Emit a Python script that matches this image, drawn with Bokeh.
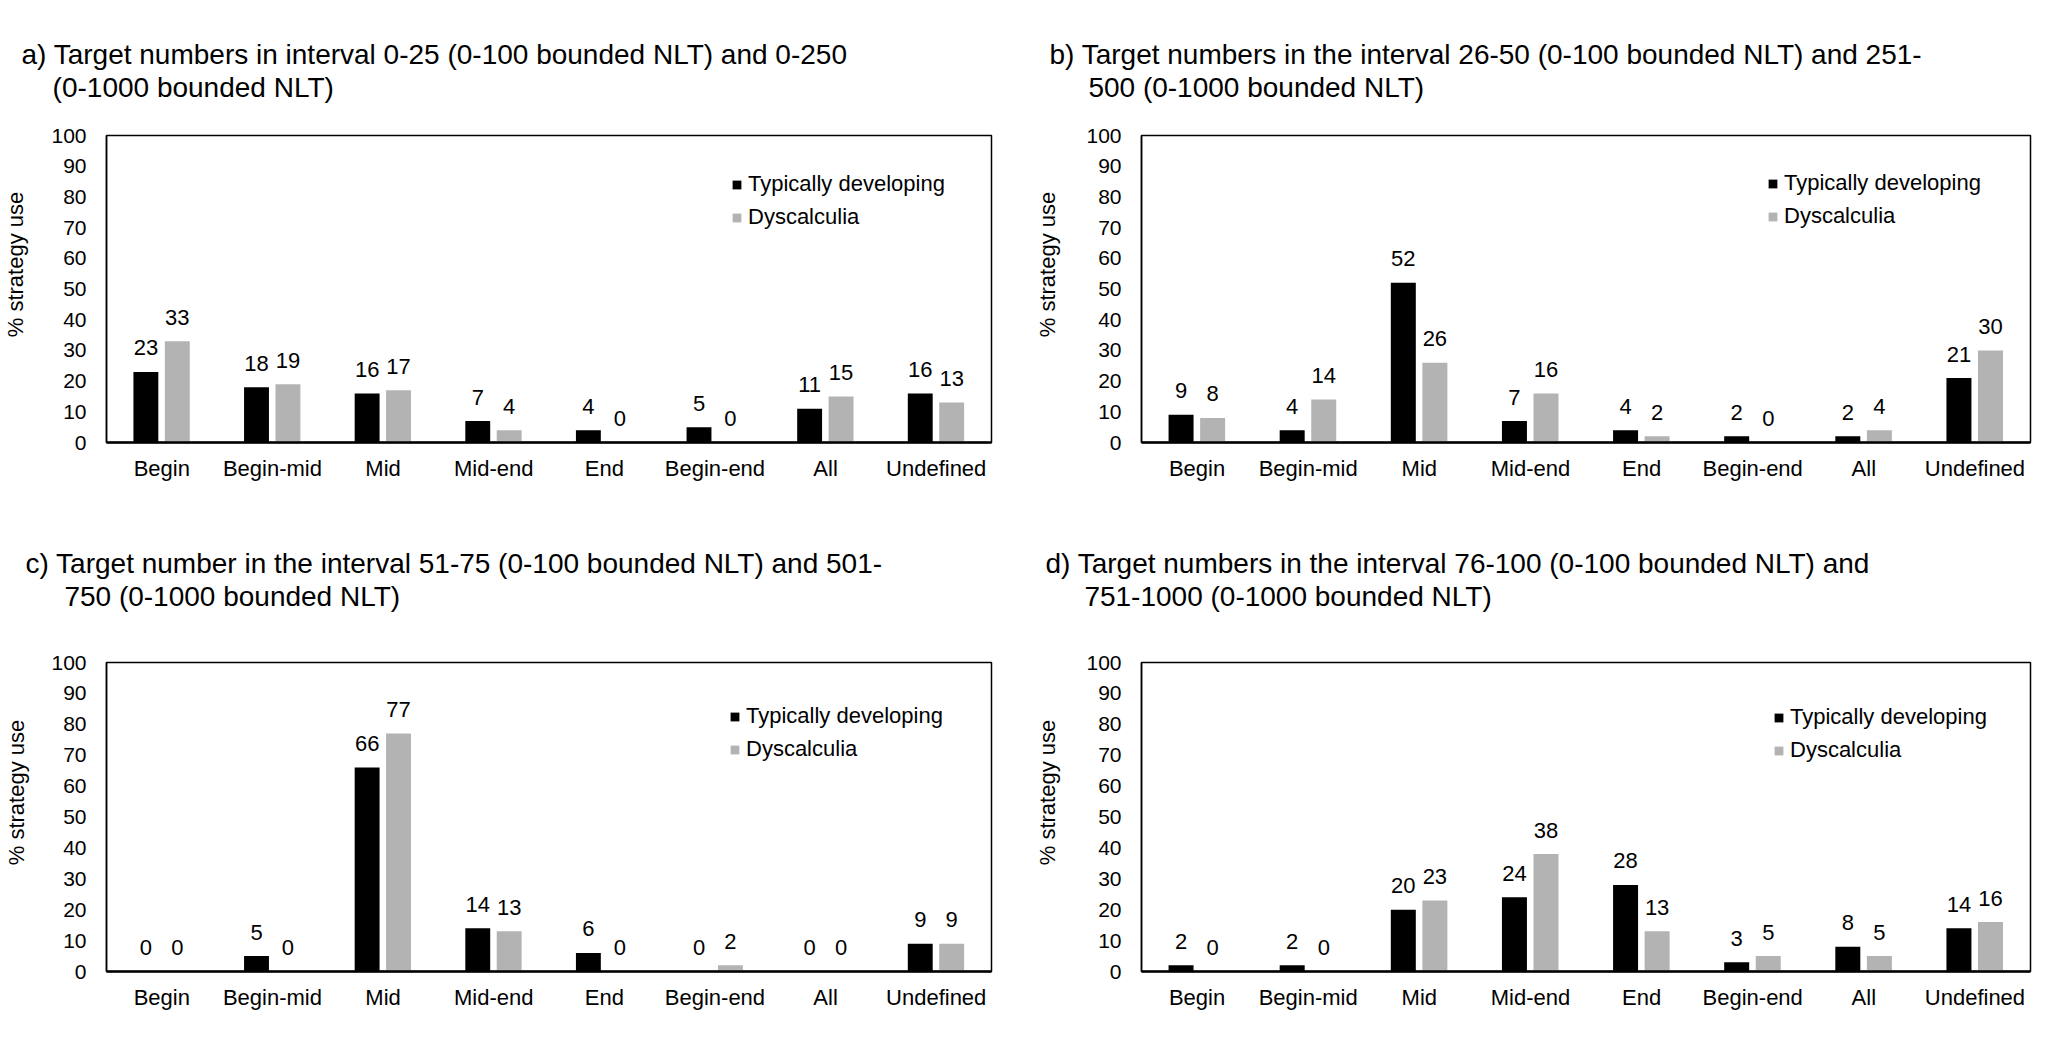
from bokeh.plotting import figure
from bokeh.models import FactorRange, Range1d, FixedTicker, Legend, LegendItem, ColumnDataSource
from bokeh.transform import dodge
from bokeh.layouts import gridplot
from bokeh.core.properties import value
from bokeh.embed import file_html
from bokeh.resources import INLINE

categories = ["Begin", "Begin-mid", "Mid", "Mid-end", "End", "Begin-end", "All", "Undefined"]
series_names = ["Typically developing", "Dyscalculia"]

a_td = [23, 18, 16, 7, 4, 5, 11, 16]
a_dy = [33, 19, 17, 4, 0, 0, 15, 13]
b_td = [9, 4, 52, 7, 4, 2, 2, 21]
b_dy = [8, 14, 26, 16, 2, 0, 4, 30]
c_td = [0, 5, 66, 14, 6, 0, 0, 9]
c_dy = [0, 0, 77, 13, 0, 2, 0, 9]
d_td = [2, 2, 20, 24, 28, 3, 8, 14]
d_dy = [0, 0, 23, 38, 13, 5, 5, 16]

titles = [
    ("a) Target numbers in interval 0-25 (0-100 bounded NLT) and 0-250", "(0-1000 bounded NLT)"),
    ("b) Target numbers in the interval 26-50 (0-100 bounded NLT) and 251-", "500 (0-1000 bounded NLT)"),
    ("c) Target number in the interval 51-75 (0-100 bounded NLT) and 501-", "750 (0-1000 bounded NLT)"),
    ("d) Target numbers in the interval 76-100 (0-100 bounded NLT) and", "751-1000 (0-1000 bounded NLT)"),
]
y_label = "% strategy use"
y_ticks = list(range(0, 101, 10))

FONT = "Liberation Sans"
BLACK = "#000000"
GRAY = "#b3b3b3"
NBSP = "\u00a0"

# per-panel layout (pixels)
specs = [
    dict(w=1022, h=490, bl=103, br=31, bt=134, bb=48, toff=-85, indent=4, tstand=64,
         ystand=20, lg=(625, 212)),
    dict(w=1017, h=490, bl=119, br=9, bt=135, bb=47, toff=-92, indent=5, tstand=65,
         ystand=23, lg=(626, 213)),
    dict(w=1022, h=547, bl=99, br=31, bt=172, bb=65, toff=-81, indent=5, tstand=100,
         ystand=19, lg=(623, 209)),
    dict(w=1017, h=547, bl=115, br=9, bt=172, bb=66, toff=-96, indent=5, tstand=100,
         ystand=23, lg=(632, 208)),
]
data = [(a_td, a_dy), (b_td, b_dy), (c_td, c_dy), (d_td, d_dy)]


def make_panel(i):
    s = specs[i]
    td, dy = data[i]
    t1, t2 = titles[i]
    p = figure(width=s["w"], height=s["h"], x_range=FactorRange(*categories, range_padding=0),
               y_range=Range1d(0, 100), output_backend="svg", toolbar_location=None,
               min_border_left=s["bl"], min_border_right=s["br"],
               min_border_top=s["bt"], min_border_bottom=s["bb"])
    src = ColumnDataSource(dict(cat=categories, td=td, dy=dy,
                                tdl=[str(v) for v in td], dyl=[str(v) for v in dy]))
    r1 = p.vbar(x=dodge("cat", -0.144, range=p.x_range), top="td", width=0.225, source=src,
                fill_color=BLACK, line_color=None)
    r2 = p.vbar(x=dodge("cat", 0.14, range=p.x_range), top="dy", width=0.225, source=src,
                fill_color=GRAY, line_color=None)
    for col, lab, off in (("td", "tdl", -0.144), ("dy", "dyl", 0.14)):
        p.text(x=dodge("cat", off, range=p.x_range), y=col, text=lab, source=src,
               text_align="center", text_baseline="middle", y_offset=-24,
               text_font_size="22px", text_color=BLACK, text_font=value(FONT))

    # two-line title with hanging indent
    p.title.text = t1 + "\n" + NBSP * s["indent"] + t2
    p.title.text_font = FONT
    p.title.text_font_size = "28px"
    p.title.text_font_style = "normal"
    p.title.text_color = BLACK
    p.title.text_line_height = 1.07
    p.title.align = "left"
    p.title.offset = s["toff"]
    p.title.standoff = s["tstand"]

    # axes
    p.xgrid.visible = False
    p.ygrid.visible = False
    p.outline_line_color = BLACK
    p.outline_line_width = 1.5
    p.outline_line_alpha = 1
    ax = p.xaxis[0]
    ax.axis_line_width = 2.5
    ax.axis_line_color = BLACK
    ax.major_tick_line_color = None
    ax.minor_tick_line_color = None
    ax.major_tick_out = 0
    ax.major_tick_in = 0
    ax.major_label_standoff = 13
    ax.major_label_text_font = FONT
    ax.major_label_text_font_size = "22px"
    ax.major_label_text_color = BLACK
    ay = p.yaxis[0]
    ay.ticker = FixedTicker(ticks=y_ticks)
    ay.axis_line_width = 1.5
    ay.axis_line_color = BLACK
    ay.major_tick_line_color = None
    ay.minor_tick_line_color = None
    ay.major_tick_out = 0
    ay.major_tick_in = 0
    ay.major_label_standoff = 20
    ay.major_label_text_font = FONT
    ay.major_label_text_font_size = "21px"
    ay.major_label_text_color = BLACK
    # leading no-break spaces lift the title above the frame's centre, as in the original
    ay.axis_label = NBSP * 8 + y_label
    ay.axis_label_text_font = FONT
    ay.axis_label_text_font_size = "22px"
    ay.axis_label_text_font_style = "normal"
    ay.axis_label_text_color = BLACK
    ay.axis_label_standoff = s["ystand"]

    leg = Legend(items=[LegendItem(label=series_names[0], renderers=[r1]),
                        LegendItem(label=series_names[1], renderers=[r2])],
                 location=s["lg"], margin=0, padding=0, spacing=7,
                 glyph_width=11, glyph_height=11, label_standoff=6,
                 label_text_font=FONT, label_text_font_size="22px", label_text_color=BLACK,
                 border_line_alpha=0, background_fill_alpha=0)
    p.add_layout(leg, "center")
    return p


panels = [make_panel(i) for i in range(4)]
grid = gridplot([[panels[0], panels[1]], [panels[2], panels[3]]], toolbar_location=None)
open("out.html", "w").write(file_html(grid, INLINE))
